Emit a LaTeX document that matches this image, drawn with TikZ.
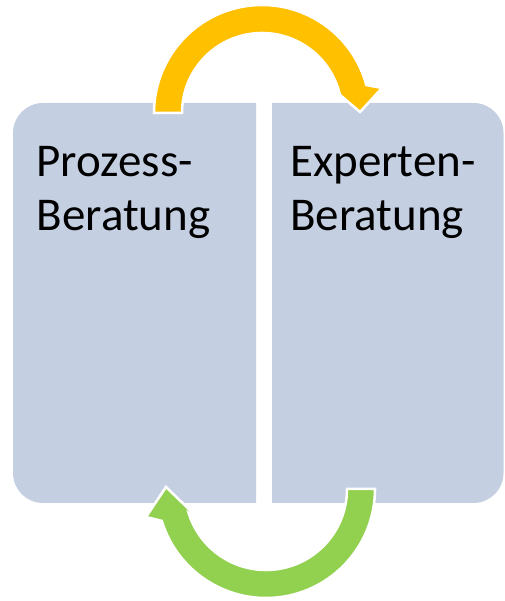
\documentclass[tikz,border=0pt]{standalone}
\usepackage{fontspec}
\setmainfont{Carlito}
\usetikzlibrary{calc}
\definecolor{boxfill}{RGB}{197,207,226}
\definecolor{arrowyellow}{RGB}{255,192,0}
\definecolor{arrowgreen}{RGB}{146,208,80}
\begin{document}
\begin{tikzpicture}[x=1pt,y=1pt,
  panel/.style={fill=boxfill,draw=none},
  boxtext/.style={anchor=base west,inner sep=0pt,align=left,font=\fontsize{47}{54}\selectfont},
  cyclearrow/.style={draw=white,line width=2.5pt,line join=miter}]
\useasboundingbox (0,0) rectangle (504,601);
% panels
\path[panel] (256,98) -- (43,98) arc[start angle=270,end angle=180,radius=30]
  -- (13,468) arc[start angle=180,end angle=90,radius=30] -- (256,498) -- cycle;
\path[panel] (272,98) -- (473.5,98) arc[start angle=-90,end angle=0,radius=30]
  -- (503.5,468) arc[start angle=0,end angle=90,radius=30] -- (272,498) -- cycle;
% texts (base anchor = baseline of last line)
\node[boxtext] (prozess) at (36.5,370) {Prozess-\\Beratung};
\node[boxtext] (experten) at (290,370) {Experten-\\Beratung};
% yellow arrow
\coordinate (yc) at (262,488);
\filldraw[cyclearrow,fill=arrowyellow] ($(yc)+(180:80)$) -- ($(yc)+(180:108)$)
  arc[start angle=180,end angle=15,radius=108] -- (382,513) -- (360,489) -- (332,513)
  -- ($(yc)+(15:80)$) arc[start angle=15,end angle=180,radius=80] -- cycle;
% green arrow
\coordinate (gc) at (266,112);
\filldraw[cyclearrow,fill=arrowgreen] ($(gc)+(0:81)$) -- ($(gc)+(0:109)$)
  arc[start angle=0,end angle=-163,radius=109] -- (146,84) -- (166,114) -- (197,84)
  -- ($(gc)+(-163:81)$) arc[start angle=-163,end angle=0,radius=81] -- cycle;
\end{tikzpicture}
\end{document}
